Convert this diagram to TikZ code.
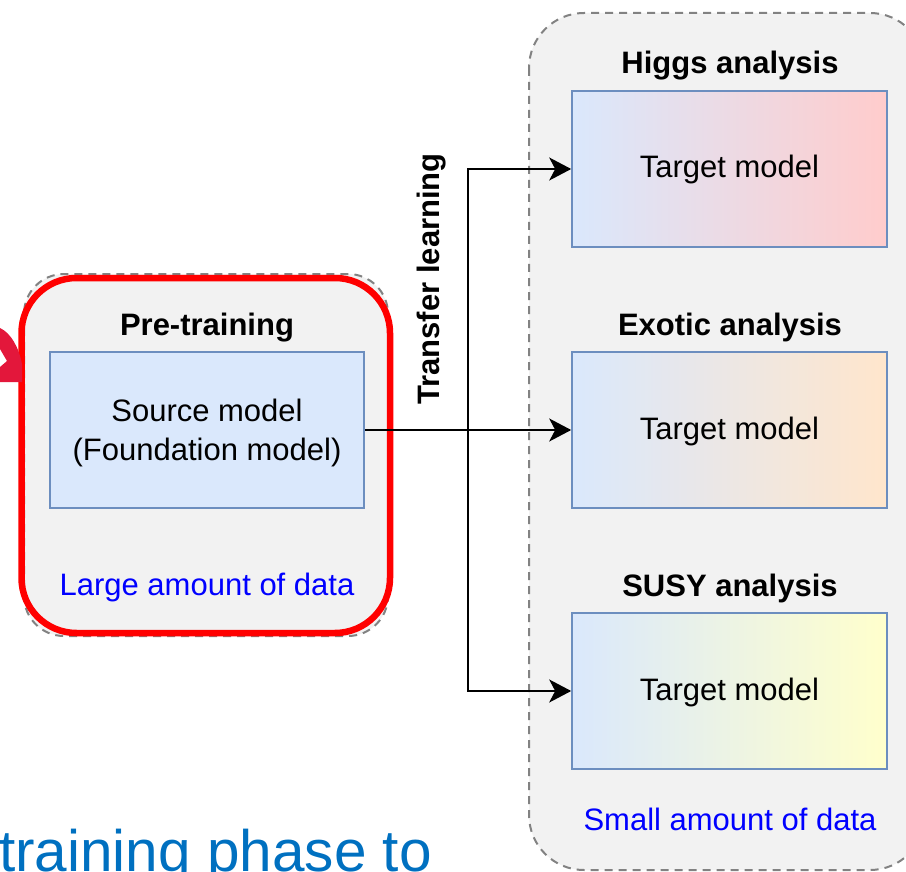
\documentclass[tikz,border=0pt]{standalone}
\usepackage{fontspec}
\setmainfont{Liberation Sans}
\usetikzlibrary{arrows.meta}
\definecolor{panelgray}{HTML}{F2F2F2}
\definecolor{dashgray}{HTML}{828282}
\definecolor{boxblue}{HTML}{DAE8FC}
\definecolor{boxedge}{HTML}{6C8EBF}
\definecolor{pinkend}{HTML}{FFCCCC}
\definecolor{orangeend}{HTML}{FFE6CC}
\definecolor{yellowend}{HTML}{FFFFCC}
\definecolor{ringred}{HTML}{FF0000}
\definecolor{crimson}{HTML}{E3173B}
\definecolor{slideblue}{HTML}{0070C0}
\definecolor{datablue}{HTML}{0000FF}
\tikzset{
  panel/.style={draw=dashgray, fill=panelgray, line width=2pt, dash pattern=on 8pt off 6pt},
  srcbox/.style={draw=boxedge, fill=boxblue, line width=1.6pt, minimum width=314pt, minimum height=156pt, inner sep=0pt, align=center, font=\fontsize{31}{39}\selectfont, text depth=0.5pt},
  tgtbox/.style={draw=boxedge, line width=1.6pt, minimum width=315pt, minimum height=156pt, inner sep=0pt, font=\fontsize{31}{37}\selectfont, text height=22pt, text depth=4pt, left color=boxblue},
  titletext/.style={anchor=base, inner sep=0pt, font=\fontsize{31}{37}\selectfont\bfseries},
  datatext/.style={anchor=base, inner sep=0pt, text=datablue, font=\fontsize{31}{37}\selectfont},
  conn/.style={line width=2.3pt, -{Stealth[length=22pt, width=23pt, inset=6pt]}}
}
\begin{document}
\begin{tikzpicture}[x=1pt, y=-1pt]
\useasboundingbox (0,0) rectangle (906,872);
% left panel
\path[panel, rounded corners=40pt] (24,274) rectangle (388,636);
\draw[ringred, line width=6.5pt, rounded corners=55pt] (21.5,278) rectangle (390,633);
% right panel
\path[panel, rounded corners=55pt] (529,13) rectangle (925,870);
% red arrow fragment at left edge
\fill[crimson] (0,328) .. controls (11,333) and (19,348) .. (22,364) -- (22,382) -- (0,382) -- (0,367) -- (7,361) -- (0,349) -- cycle;
% titles
\node[titletext] (pretitle) at (207,335) {Pre-training};
\node[titletext] (higgstitle) at (730,74) {Higgs analysis};
\node[titletext] (exotictitle) at (730,335) {Exotic analysis};
\node[titletext] (susytitle) at (730,596) {SUSY analysis};
% boxes
\node[srcbox] (src) at (207,430) {Source model\\(Foundation model)};
\node[tgtbox, right color=pinkend] (t1) at (729.5,169) {Target model};
\node[tgtbox, right color=orangeend] (t2) at (729.5,430) {Target model};
\node[tgtbox, right color=yellowend] (t3) at (729.5,691) {Target model};
% data labels
\node[datatext] (largedata) at (207,595) {Large amount of data};
\node[datatext] (smalldata) at (730,830) {Small amount of data};
% connectors
\coordinate (jn) at (468,430);
\draw[conn] (src.east) -- (t2.west);
\draw[conn] (jn) |- (t1.west);
\draw[conn] (jn) |- (t3.west);
\node[rotate=90, inner sep=0pt, font=\fontsize{31}{37}\selectfont\bfseries] (tl) at (432,279) {Transfer learning};
% slide text cut at bottom
\node[anchor=base west, inner sep=0pt, text=slideblue, font=\fontsize{58.5}{62}\selectfont] (slidetext) at (-1,871) {training phase to};
\end{tikzpicture}
\end{document}
